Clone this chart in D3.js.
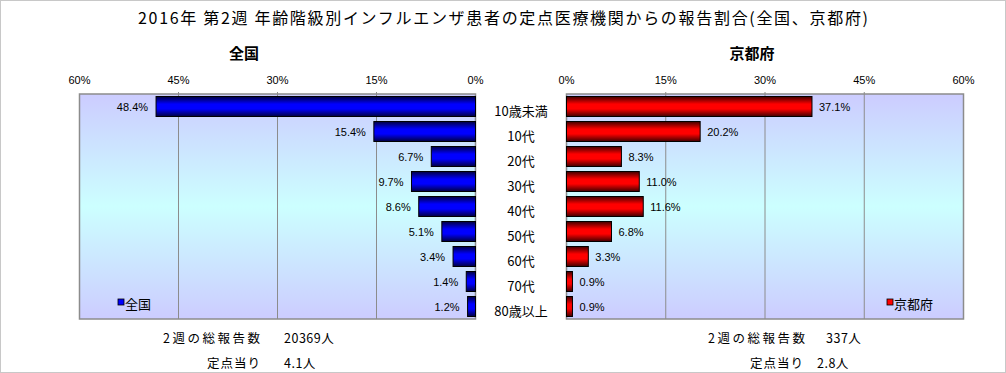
<!DOCTYPE html>
<html><head><meta charset="utf-8">
<script src="https://cdn.jsdelivr.net/npm/d3@7"></script>
<style>
html,body{margin:0;padding:0;background:#fff;}
svg{display:block;}
text{font-family:"Liberation Sans","Noto Sans CJK JP",sans-serif;fill:#000;}
.jp{font-family:"Noto Sans CJK JP","Liberation Sans",sans-serif;}
</style>
</head><body>
<script>
const categories = ["10歳未満","10代","20代","30代","40代","50代","60代","70代","80歳以上"];
const nationalValues = [48.4,15.4,6.7,9.7,8.6,5.1,3.4,1.4,1.2];
const kyotoValues = [37.1,20.2,8.3,11.0,11.6,6.8,3.3,0.9,0.9];
const tickValues = [0,15,30,45,60];
const titleText = "2016年 第2週 年齢階級別インフルエンザ患者の定点医療機関からの報告割合(全国、京都府)";
const panelTitles = ["全国","京都府"];
const summaryLabels = ["2週の総報告数","定点当り"];
const nationalSummary = ["20369人","4.1人"];
const kyotoSummary = ["337人","2.8人"];

const W = 1006, H = 373;
const svg = d3.select("body").append("svg").attr("width", W).attr("height", H);
const defs = svg.append("defs");

// outer border
svg.append("rect").attr("x",0.5).attr("y",0.5).attr("width",W-1).attr("height",H-1)
  .attr("fill","#fff").attr("stroke","#c8c8c8");

// gradients
const bg = defs.append("linearGradient").attr("id","bg").attr("x1",0).attr("y1",0).attr("x2",0).attr("y2",1);
[[0,"#ccccff"],[0.5,"#ccffff"],[1,"#ccccff"]].forEach(s=>bg.append("stop").attr("offset",s[0]).attr("stop-color",s[1]));
function barGrad(id, dark, bright){
  const g = defs.append("linearGradient").attr("id",id).attr("x1",0).attr("y1",0).attr("x2",0).attr("y2",1);
  [[0,dark],[0.38,bright],[0.62,bright],[1,dark]].forEach(s=>g.append("stop").attr("offset",s[0]).attr("stop-color",s[1]));
}
barGrad("gBlue","#000040","#0000ff");
barGrad("gRed","#400000","#ff0000");

const plotTop = 94, plotBottom = 319;
const y = d3.scaleBand().domain(categories).range([plotTop, plotBottom]).paddingInner(0.2).paddingOuter(0.1);
const xL = d3.scaleLinear().domain([0,60]).range([475.5, 79.5]);
const xR = d3.scaleLinear().domain([0,60]).range([566.5, 963.5]);
const fmt = v => d3.format(".1f")(v) + "%";

function panel(x, values, grad, side, legendX, legendName, legendColor){
  const [x0, x1] = x.range();
  const left = Math.min(x0,x1), right = Math.max(x0,x1);
  svg.append("rect").attr("x",left).attr("y",plotTop).attr("width",right-left).attr("height",plotBottom-plotTop)
    .attr("fill","url(#bg)");
  // gridlines
  svg.append("g").selectAll("line").data(tickValues.filter(t=>t>0 && t<60)).join("line")
    .attr("x1",d=>x(d)).attr("x2",d=>x(d)).attr("y1",plotTop-2).attr("y2",plotBottom)
    .attr("stroke","#8c8c8c").attr("stroke-width",1);
  svg.append("rect").attr("x",left).attr("y",plotTop).attr("width",right-left).attr("height",plotBottom-plotTop)
    .attr("fill","none").attr("stroke","#8c8c8c").attr("stroke-width",1.5);
  // tick labels
  svg.append("g").selectAll("text").data(tickValues).join("text")
    .attr("x",d=>x(d)).attr("y",80).attr("text-anchor","middle").attr("dominant-baseline","central")
    .attr("font-size",11).text(d=>d+"%");
  // bars
  svg.append("g").selectAll("rect").data(values).join("rect")
    .attr("x",d=>Math.min(x(0),x(d))).attr("y",(d,i)=>y(categories[i]))
    .attr("width",d=>Math.abs(x(d)-x(0))).attr("height",y.bandwidth())
    .attr("fill",`url(#${grad})`).attr("stroke","#000").attr("stroke-width",1);
  // value labels
  svg.append("g").selectAll("text").data(values).join("text")
    .attr("x",d=> side==="left" ? x(d)-8 : x(d)+7)
    .attr("y",(d,i)=>y(categories[i])+y.bandwidth()/2)
    .attr("text-anchor", side==="left" ? "end" : "start")
    .attr("dominant-baseline","central").attr("font-size",11).text(fmt);
  // legend
  const lg = svg.append("g");
  lg.append("rect").attr("x",legendX).attr("y",299).attr("width",6).attr("height",6)
    .attr("fill",legendColor).attr("stroke","#000").attr("stroke-width",0.8);
  lg.append("text").attr("class","jp").attr("x",legendX+7).attr("y",303).attr("dominant-baseline","central")
    .attr("font-size",13).text(legendName);
}

panel(xL, nationalValues, "gBlue", "left", 118, "全国", "#0000ff");
panel(xR, kyotoValues, "gRed", "right", 887, "京都府", "#ff0000");

// category labels
svg.append("g").selectAll("text").data(categories).join("text").attr("class","jp")
  .attr("x",521).attr("y",d=>y(d)+y.bandwidth()/2+4).attr("text-anchor","middle")
  .attr("dominant-baseline","central").attr("font-size",13).text(d=>d);

// title
svg.append("text").attr("class","jp").attr("x",138).attr("y",17).attr("dominant-baseline","central")
  .attr("font-size",16).attr("textLength",730).attr("lengthAdjust","spacing").text(titleText);
// panel titles
svg.append("text").attr("class","jp").attr("x",244).attr("y",52).attr("text-anchor","middle")
  .attr("dominant-baseline","central").attr("font-size",15).attr("font-weight","bold").text(panelTitles[0]);
svg.append("text").attr("class","jp").attr("x",752).attr("y",52).attr("text-anchor","middle")
  .attr("dominant-baseline","central").attr("font-size",15).attr("font-weight","bold").text(panelTitles[1]);

// summaries
function summary(labelEnds, valueStarts, vals){
  const ys = [337, 362];
  summaryLabels.forEach((s,i)=>{
    const len = i===0 ? 97 : 53;
    svg.append("text").attr("class","jp").attr("x",labelEnds[i]-len).attr("y",ys[i])
      .attr("dominant-baseline","central").attr("font-size",12.5)
      .attr("textLength",len).attr("lengthAdjust","spacing").text(s);
    svg.append("text").attr("class","jp").attr("x",valueStarts[i]).attr("y",ys[i])
      .attr("dominant-baseline","central").attr("font-size",12.5).attr("letter-spacing",0.5).text(vals[i]);
  });
}
summary([260,260],[284,284], nationalSummary);
summary([805,803],[826,817], kyotoSummary);
</script>
</body></html>
